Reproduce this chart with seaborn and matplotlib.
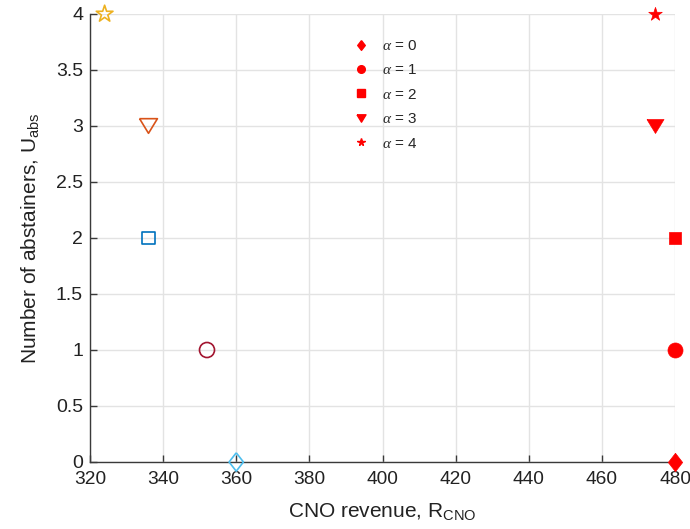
import matplotlib
matplotlib.use("Agg")
import matplotlib.pyplot as plt
import seaborn as sns
import pandas as pd

# ---- data ----
alphas = [0, 1, 2, 3, 4]
hollow_revenue = [360, 352, 336, 336, 324]
hollow_abstainers = [0, 1, 2, 3, 4]
hollow_colors = ["#4DBEEE", "#A2142F", "#0072BD", "#D95319", "#EDB120"]
filled_revenue = [480, 480, 480, 474.5, 474.5]
filled_abstainers = [0, 1, 2, 3, 4]
x_ticks = [320, 340, 360, 380, 400, 420, 440, 460, 480]
y_ticks = [0, 0.5, 1, 1.5, 2, 2.5, 3, 3.5, 4]

# ---- marker styles (MATLAB-like shapes) ----
diamond = [(0, 1), (0.78, 0), (0, -1), (-0.78, 0), (0, 1)]
tri_down = [(-1, 0.82), (1, 0.82), (0, -0.82), (-1, 0.82)]
markers = [diamond, "o", "s", tri_down, "*"]
hollow_sizes = [175, 117, 81, 165, 160]
filled_sizes = [175, 117, 81, 150, 105]
legend_msizes = [7, 5.5, 6, 6.5, 5.5]

sns.set_theme(style="whitegrid")
plt.rcParams["font.family"] = ["Liberation Sans", "DejaVu Sans"]
plt.rcParams["mathtext.fontset"] = "custom"
plt.rcParams["mathtext.rm"] = "Liberation Sans"
plt.rcParams["mathtext.it"] = "Liberation Serif:italic"

fig = plt.figure(figsize=(6.9, 5.29), dpi=100)
ax = fig.add_axes([90/690, 1 - 462/529, 585/690, 448/529])

for i, a in enumerate(alphas):
    df_h = pd.DataFrame({"x": [hollow_revenue[i]], "y": [hollow_abstainers[i]]})
    sns.scatterplot(data=df_h, x="x", y="y", marker=markers[i], s=hollow_sizes[i],
                    color=hollow_colors[i], ax=ax, zorder=3, clip_on=False)
    col = ax.collections[-1]
    col.set_facecolor("none")
    col.set_edgecolor(hollow_colors[i])
    col.set_linewidth(1.2)

handles = []
for i, a in enumerate(alphas):
    df_f = pd.DataFrame({"x": [filled_revenue[i]], "y": [filled_abstainers[i]]})
    sns.scatterplot(data=df_f, x="x", y="y", marker=markers[i], s=filled_sizes[i],
                    color="#FF0000", edgecolor="#FF0000", linewidth=0.5, ax=ax,
                    zorder=3, clip_on=False)
    handles.append(plt.Line2D([], [], linestyle="none", marker=markers[i],
                              color="#FF0000", markersize=legend_msizes[i],
                              label=rf"$\alpha$ = {a}"))

ax.set_xlim(320, 480)
ax.set_ylim(0, 4)
ax.set_xticks(x_ticks)
ax.set_yticks(y_ticks)
ax.set_xticklabels([str(v) for v in x_ticks])
ax.set_yticklabels([f"{v:g}" for v in y_ticks])
ax.grid(True, color="#E3E3E3", linewidth=1.0)
for side in ["top", "right"]:
    ax.spines[side].set_visible(False)
for side in ["left", "bottom"]:
    ax.spines[side].set_color("#3A3A3A")
    ax.spines[side].set_linewidth(1.0)
ax.tick_params(axis="both", direction="in", length=5, width=1.0, color="#3A3A3A",
               labelcolor="#222222", left=True, bottom=True)
ax.tick_params(axis="x", labelsize=13.8, pad=6.5)
ax.tick_params(axis="y", labelsize=14, pad=5)

ax.set_xlabel(r"CNO revenue, R$_{\mathrm{CNO}}$", fontsize=15, color="#222222", labelpad=9)
ax.set_ylabel(r"Number of abstainers, U$_{\mathrm{abs}}$", fontsize=15, color="#222222", labelpad=11)

ax.legend(handles=handles, loc="upper left", bbox_to_anchor=(0.42, 0.975),
          frameon=False, fontsize=11, labelspacing=0.68, handletextpad=0.6,
          handlelength=1.5)

fig.savefig("out.png", dpi=100)
